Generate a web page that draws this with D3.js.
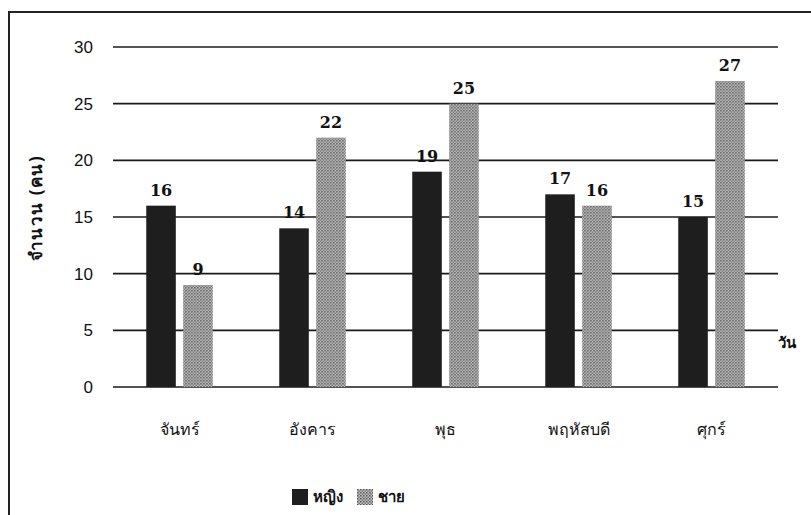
<!DOCTYPE html>
<html>
<head>
<meta charset="utf-8">
<script src="https://cdn.jsdelivr.net/npm/d3@7"></script>
<style>
  html, body { margin: 0; padding: 0; background: #fff; overflow: hidden; }
  svg { display: block; }
  svg text { fill: #111; }
</style>
</head>
<body>
<div id="chart"></div>
<script>
// data
var days = ["จันทร์", "อังคาร", "พุธ", "พฤหัสบดี", "ศุกร์"];
var seriesNames = ["หญิง", "ชาย"];
var female = [16, 14, 19, 17, 15];
var male = [9, 22, 25, 16, 27];
var yTicks = [0, 5, 10, 15, 20, 25, 30];

var width = 811, height = 515;
var margin = { top: 47, right: 33, bottom: 128, left: 113 };
var innerWidth = width - margin.left - margin.right;
var innerHeight = height - margin.top - margin.bottom;

var svg = d3.select("#chart")
  .append("svg")
  .attr("width", width)
  .attr("height", height);

// patterned fill for the light bars
var defs = svg.append("defs");
var pat = defs.append("pattern")
  .attr("id", "dots")
  .attr("width", 3)
  .attr("height", 3)
  .attr("patternUnits", "userSpaceOnUse");
pat.append("rect").attr("width", 3).attr("height", 3).attr("fill", "#c4c4c4");
pat.append("rect").attr("width", 1.5).attr("height", 1.5).attr("fill", "#555");
pat.append("rect").attr("x", 1.5).attr("y", 1.5).attr("width", 1.5).attr("height", 1.5).attr("fill", "#777");

// outer frame (only left and top edges show in the picture)
svg.append("path")
  .attr("d", "M9," + height + "V12H" + width)
  .attr("fill", "none")
  .attr("stroke", "#222")
  .attr("stroke-width", 2);

var g = svg.append("g")
  .attr("transform", "translate(" + margin.left + "," + margin.top + ")");

//scales
var x0 = d3.scaleBand().domain(days).range([0, innerWidth]).paddingInner(0.5).paddingOuter(0.25);
var x1 = d3.scaleBand().domain(seriesNames).range([0, x0.bandwidth()]).paddingInner(0.2);
var y = d3.scaleLinear().domain([0, 30]).range([innerHeight, 0]);

//grid lines
g.selectAll(".grid")
  .data(yTicks)
  .enter()
  .append("line")
  .attr("class", "grid")
  .attr("x1", 0)
  .attr("x2", innerWidth)
  .attr("y1", function(d) { return y(d); })
  .attr("y2", function(d) { return y(d); })
  .style("stroke", "#1a1a1a")
  .style("stroke-width", 1.6);

//y axis
var yAxis = d3.axisLeft(y).tickValues(yTicks).tickSize(0).tickPadding(20);
var yG = g.append("g").call(yAxis);
yG.select(".domain").remove();
yG.selectAll("text")
  .style("font-family", "Liberation Sans Narrow, Liberation Sans, sans-serif")
  .style("font-size", "17px")
  .style("fill", "#111");

//x axis
var xAxis = d3.axisBottom(x0).tickSize(0).tickPadding(37);
var xG = g.append("g").attr("transform", "translate(0," + innerHeight + ")").call(xAxis);
xG.select(".domain").remove();
xG.selectAll("text")
  .style("font-family", "Noto Sans, DejaVu Sans, sans-serif")
  .style("font-size", "16px")
  .style("fill", "#111");

var rows = days.map(function(d, i) {
  return { day: d, values: [{ key: "หญิง", v: female[i] }, { key: "ชาย", v: male[i] }] };
});

var groups = g.selectAll(".day")
  .data(rows)
  .enter()
  .append("g")
  .attr("transform", function(d) { return "translate(" + x0(d.day) + ",0)"; });

groups.selectAll("rect")
  .data(function(d) { return d.values; })
  .enter()
  .append("rect")
  .attr("x", function(d) { return x1(d.key); })
  .attr("y", function(d) { return y(d.v); })
  .attr("width", x1.bandwidth())
  .attr("height", function(d) { return innerHeight - y(d.v); })
  .attr("fill", function(d) { return d.key == "หญิง" ? "#1e1e1e" : "url(#dots)"; });

groups.selectAll(".val")
  .data(function(d) { return d.values; })
  .enter()
  .append("text")
  .attr("class", "val")
  .attr("x", function(d) { return x1(d.key) + x1.bandwidth() / 2; })
  .attr("y", function(d) { return y(d.v) - 10; })
  .attr("text-anchor", "middle")
  .style("font-family", "DejaVu Serif, Liberation Serif, serif")
  .style("font-weight", "bold")
  .style("font-size", "16px")
  .text(function(d) { return d.v; });

//axis titles
svg.append("text")
  .attr("transform", "translate(42,208) rotate(-90)")
  .attr("text-anchor", "middle")
  .style("font-family", "Noto Sans, DejaVu Sans, sans-serif")
  .style("font-weight", "bold")
  .style("font-size", "17px")
  .style("letter-spacing", "1.5px")
  .text("จำนวน (คน)");

svg.append("text")
  .attr("x", 778)
  .attr("y", 348)
  .style("font-family", "Noto Sans, DejaVu Sans, sans-serif")
  .style("font-weight", "bold")
  .style("font-size", "15px")
  .text("วัน");

//legend
var legend = svg.append("g").attr("transform", "translate(292,489)");
var legendItems = legend.selectAll(".leg")
  .data(seriesNames)
  .enter()
  .append("g")
  .attr("transform", function(d, i) { return "translate(" + (i * 65) + ",0)"; });
legendItems.append("rect")
  .attr("width", 16)
  .attr("height", 16)
  .attr("fill", function(d) { return d == "หญิง" ? "#1e1e1e" : "url(#dots)"; });
legendItems.append("text")
  .attr("x", 21)
  .attr("y", 13)
  .style("font-family", "Noto Sans, DejaVu Sans, sans-serif")
  .style("font-weight", "bold")
  .style("font-size", "15px")
  .text(function(d) { return d; });
</script>
</body>
</html>
